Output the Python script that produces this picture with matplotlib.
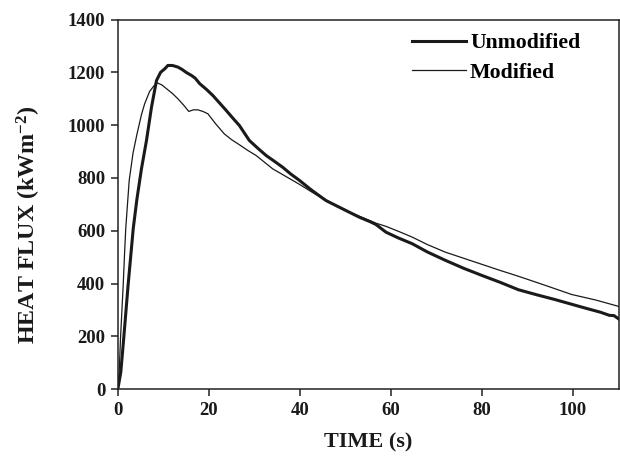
import matplotlib

matplotlib.use("Agg")

from matplotlib import pyplot as plt

# Heat flux traces, time in s, flux in kW/m^2
unmod_t = [0, 0.66, 1.3, 2.26, 3.4, 4.2, 5.2, 6.3, 7.4, 8.5, 9.4, 10.3, 11.0, 12.0,
           13.2, 14.2, 15.0, 16.2, 17.0, 18.0, 19.5, 20.9, 22.3, 23.8, 25.2, 26.7,
           28.9, 30.8, 32.6, 34.5, 36.2, 38.0, 39.9, 42.5, 45.7, 48.0, 50.1, 53.0,
           55.5, 56.7, 58.9, 61.5, 64.7, 68.0, 72.0, 76.0, 80.0, 84.0, 88.0, 92.0,
           96.0, 99.7, 103.0, 106.0, 108.0, 109.0, 110.0]
unmod_q = [0, 65, 193, 394, 610, 720, 835, 942, 1068, 1169, 1200, 1213, 1226, 1226,
           1220, 1210, 1200, 1188, 1178, 1157, 1135, 1112, 1085, 1056, 1028, 999,
           942, 912, 885, 862, 841, 815, 791, 755, 715, 695, 677, 652,
           634, 624, 595, 574, 551, 520, 488, 458, 431, 405, 377, 358,
           340, 322, 306, 292, 280, 279, 267]

mod_t = [0, 0.3, 0.6, 1.2, 1.5, 1.75, 2.5, 3.35, 4.2, 5.2, 5.9, 7.0, 8.0, 8.7,
         9.7, 10.7, 12.0, 13.2, 14.5, 15.6, 16.6, 17.6, 18.7, 19.8, 21.5, 23.4,
         25.0, 26.7, 28.5, 30.4, 32.2, 34.0, 37.0, 39.9, 42.8, 45.7, 50.1, 53.5,
         56.7, 58.9, 61.8, 64.7, 68.0, 72.0, 76.0, 80.0, 84.0, 88.0, 94.0, 99.7,
         105.0, 110.0]
mod_q = [0, 65, 195, 400, 520, 610, 790, 895, 965, 1040, 1081, 1128, 1150, 1160,
         1152, 1138, 1120, 1100, 1075, 1052, 1058, 1058, 1052, 1043, 1005, 967,
         945, 926, 905, 885, 860, 835, 805, 776, 745, 715, 677, 652,
         629, 617, 597, 576, 548, 519, 496, 473, 450, 428, 393, 359,
         338, 314]

xticks = [0, 20, 40, 60, 80, 100]
yticks = [0, 200, 400, 600, 800, 1000, 1200, 1400]

plt.rcParams["font.family"] = ["Liberation Serif", "DejaVu Serif"]
plt.rcParams["font.weight"] = "bold"
plt.rcParams["mathtext.fontset"] = "custom"
plt.rcParams["mathtext.rm"] = "Liberation Serif:bold"
plt.rcParams["mathtext.bf"] = "Liberation Serif:bold"
plt.rcParams["mathtext.default"] = "bf"
plt.rcParams["axes.linewidth"] = 1.1
plt.rcParams["axes.edgecolor"] = "#222222"

fig = plt.figure(figsize=(6.2, 4.58), dpi=100)
ax = fig.add_axes([0.190, 0.150, 0.8076, 0.8074])

ink = "#1a1a1a"
ax.plot(unmod_t, unmod_q, color=ink, linewidth=2.2, label="Unmodified")
ax.plot(mod_t, mod_q, color=ink, linewidth=0.9, label="Modified")

ax.set_xlim(0, 110)
ax.set_ylim(0, 1400)
ax.set_xticks(xticks)
ax.set_yticks(yticks)
ax.tick_params(direction="out", length=5, width=1.1, color="#222222",
               labelsize=13.5, labelcolor="#1a1a1a", pad=4)

ax.set_xlabel("TIME (s)", fontsize=16, fontweight="bold", color="#1a1a1a", labelpad=10)
ax.set_ylabel(r"HEAT FLUX (kWm$^{-2}$)", fontsize=17.3, fontweight="bold",
              color="#1a1a1a")
ax.yaxis.set_label_coords(-0.150, 0.445)

ax.legend(loc="upper left", bbox_to_anchor=(0.561, 1.0), frameon=False,
          handlelength=2.45, handletextpad=0.2, labelspacing=0.42,
          borderaxespad=0.22, prop={"weight": "bold", "size": 15.7})

fig.savefig("out.png", dpi=100)
plt.close(fig)
